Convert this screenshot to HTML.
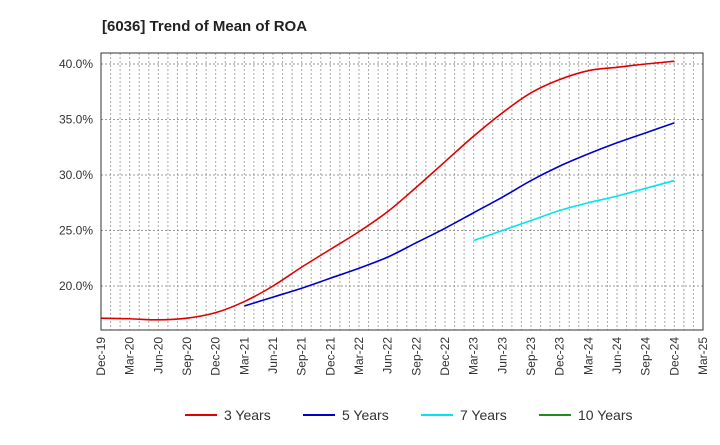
<!DOCTYPE html>
<html><head><meta charset="utf-8"><style>
body{margin:0;background:#fff;font-family:"Liberation Sans",sans-serif;}
svg text{font-family:"Liberation Sans",sans-serif;}
</style></head><body>
<svg id="c" width="720" height="440" xmlns="http://www.w3.org/2000/svg">
<text x="102" y="31" font-size="15" font-weight="bold" fill="#222">[6036]  Trend of Mean of ROA</text>
<g id="grid"></g><g id="series"></g><g id="axes"></g><g id="legend"></g>
</svg>
<script>
const xLabels=["Dec-19","Mar-20","Jun-20","Sep-20","Dec-20","Mar-21","Jun-21","Sep-21","Dec-21","Mar-22","Jun-22","Sep-22","Dec-22","Mar-23","Jun-23","Sep-23","Dec-23","Mar-24","Jun-24","Sep-24","Dec-24","Mar-25"];
const yTicks=[20,25,30,35,40];
const y3=[17.1,17.05,16.95,17.1,17.6,18.6,20.0,21.7,23.3,24.9,26.7,28.9,31.2,33.5,35.6,37.4,38.6,39.4,39.7,40.0,40.25];
const y5=[18.2,19.0,19.8,20.7,21.6,22.6,23.9,25.2,26.6,28.0,29.5,30.8,31.9,32.9,33.8,34.7];
const y7=[24.1,25.0,25.9,26.8,27.5,28.1,28.8,29.5];
const y10=[];
const L=101,R=703,T=53,B=330,NS="http://www.w3.org/2000/svg";
const xs=i=>L+i*(R-L)/21;
const ys=v=>64+(40-v)*(286-64)/20;
function mk(t,a,p){const e=document.createElementNS(NS,t);for(const k in a)e.setAttribute(k,a[k]);document.getElementById(p).appendChild(e);return e;}
for(let m=1;m<63;m++){const x=L+m*(R-L)/63;const g=mk('line',{x1:x,x2:x,y1:T,y2:B,stroke:'#aaa','stroke-dasharray':'2,2','stroke-width':1},'grid');

}
yTicks.forEach(v=>{const g=mk('line',{x1:L,x2:R,y1:ys(v),y2:ys(v),stroke:'#999','stroke-dasharray':'2,2'},'grid');


const t=mk('text',{x:L-8,y:ys(v)+4,'text-anchor':'end','font-size':12,fill:'#333'},'axes');t.textContent=v.toFixed(1)+'%';

});
const fr=mk('rect',{x:L,y:T,width:R-L,height:B-T,fill:'none',stroke:'#333','stroke-width':1},'axes');


xLabels.forEach((s,i)=>{const x=xs(i);const t=mk('text',{transform:`translate(${x+4},${B+7}) rotate(-90)`,'text-anchor':'end','font-size':12,fill:'#333'},'axes');t.textContent=s;

});
function path(vals,off){const p=vals.map((v,i)=>[xs(i+off),ys(v)]);if(p.length<2)return '';let d=`M${p[0][0]},${p[0][1]}`;
for(let i=0;i<p.length-1;i++){const p0=p[i-1]||p[i],p1=p[i],p2=p[i+1],p3=p[i+2]||p2;
d+=` C${p1[0]+(p2[0]-p0[0])/6},${p1[1]+(p2[1]-p0[1])/6} ${p2[0]-(p3[0]-p1[0])/6},${p2[1]-(p3[1]-p1[1])/6} ${p2[0]},${p2[1]}`;}return d;}
[[y3,0,'#e00000','series-3-years'],[y5,5,'#0000cc','series-5-years'],[y7,13,'#00e5ee','series-7-years'],[y10,0,'#228b22','series-10-years']].forEach(s=>{
if(!s[0].length)return;const e=mk('path',{d:path(s[0],s[1]),fill:'none',stroke:s[2],'stroke-width':1.6},'series');

});
[['3 Years','#e00000',185],['5 Years','#0000cc',303],['7 Years','#00e5ee',421],['10 Years','#228b22',539]].forEach(l=>{
const ln=mk('line',{x1:l[2],x2:l[2]+32,y1:415,y2:415,stroke:l[1],'stroke-width':2},'legend');


const t=mk('text',{x:l[2]+39,y:420,'font-size':14,fill:'#333'},'legend');t.textContent=l[0];

});
</script>
</body></html>
